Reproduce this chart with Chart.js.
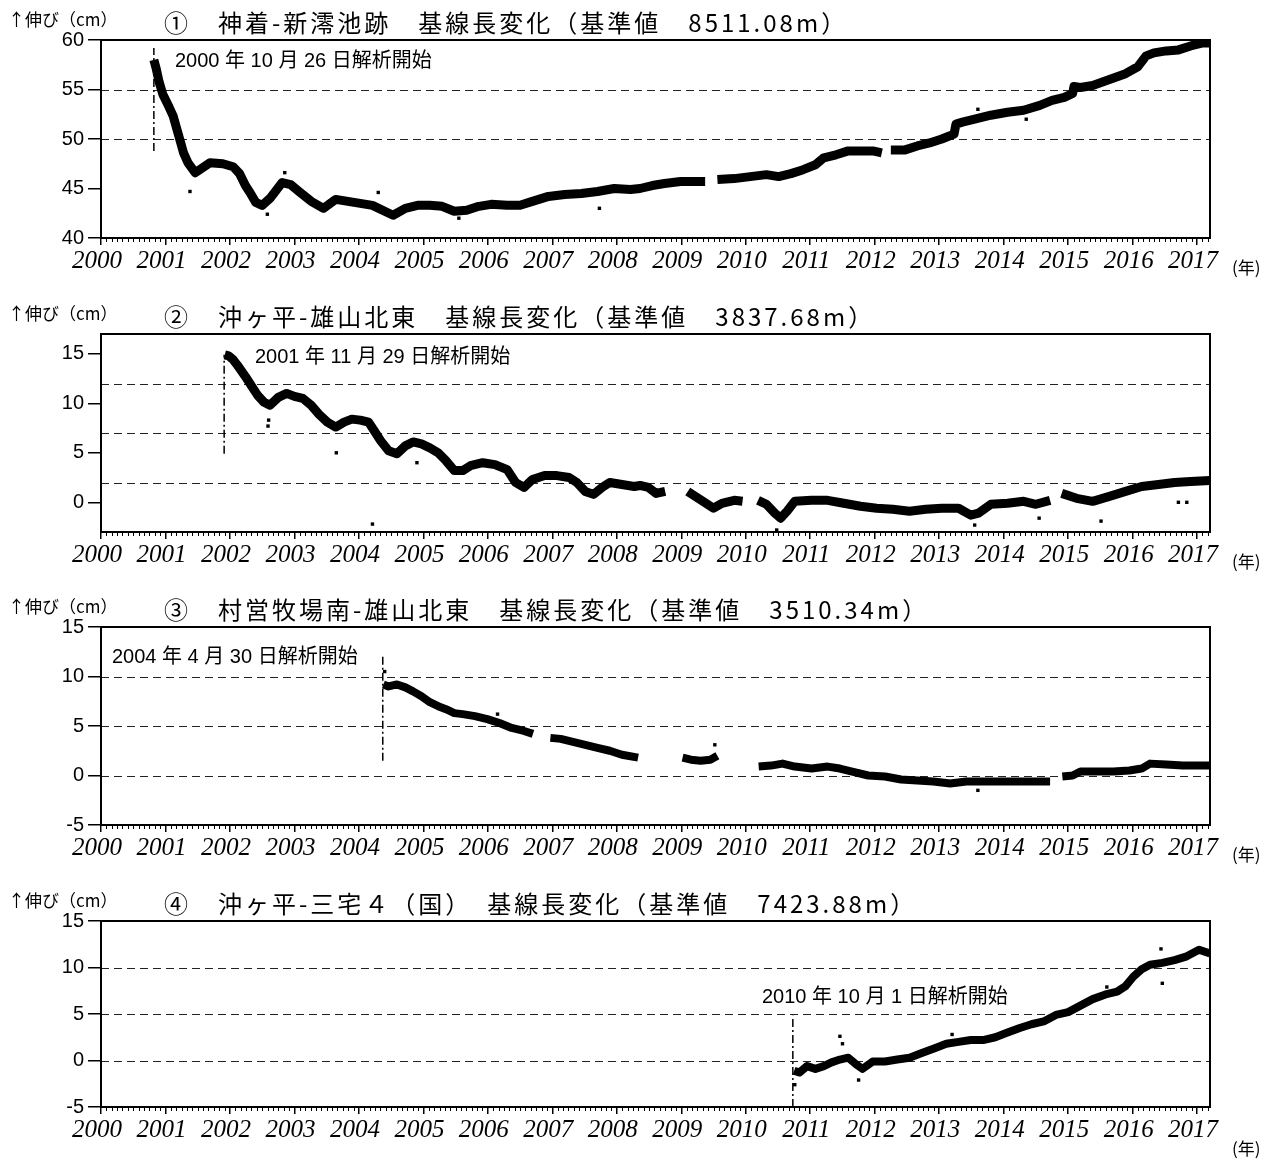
<!DOCTYPE html>
<html>
<head>
<meta charset="utf-8">
<script src="https://cdn.jsdelivr.net/npm/chart.js@4.4.1/dist/chart.umd.min.js"></script>
<style>
  body { margin: 0; background: #fff; width: 1281px; height: 1159px; overflow: hidden; position: relative; }
  canvas { position: absolute; left: 0; }
</style>
</head>
<body>
<canvas id="panel1" width="1281" height="290" style="top:0px"></canvas>
<canvas id="panel2" width="1281" height="290" style="top:294px"></canvas>
<canvas id="panel3" width="1281" height="290" style="top:587px"></canvas>
<canvas id="panel4" width="1281" height="278" style="top:881px"></canvas>
<script>
// x axis (decimal years)
const yearTicks = [2000, 2001, 2002, 2003, 2004, 2005, 2006, 2007, 2008, 2009, 2010, 2011, 2012, 2013, 2014, 2015, 2016, 2017];
const xMin = 2000;
const xMax = 2017.2;

// ① 神着-新澪池跡  (null = gap in data)
const p1Years = [2000.82, 2000.86, 2000.90, 2000.96, 2001.05, 2001.12, 2001.22, 2001.28, 2001.35, 2001.46, 2001.53, 2001.69, 2001.89, 2002.05, 2002.15, 2002.24, 2002.31, 2002.40, 2002.50, 2002.62, 2002.81, 2002.94, 2003.07, 2003.26, 2003.45, 2003.64, 2003.83, 2004.02, 2004.21, 2004.40, 2004.53, 2004.72, 2004.91, 2005.10, 2005.29, 2005.48, 2005.67, 2005.86, 2006.05, 2006.30, 2006.50, 2006.69, 2006.94, 2007.19, 2007.45, 2007.70, 2007.96, 2008.21, 2008.36, 2008.55, 2008.74, 2008.99, 2009.37, 2009.46, 2009.56, 2009.82, 2010.07, 2010.32, 2010.51, 2010.70, 2010.89, 2011.08, 2011.21, 2011.40, 2011.59, 2011.78, 2011.97, 2012.11, 2012.18, 2012.25, 2012.47, 2012.66, 2012.85, 2013.04, 2013.23, 2013.26, 2013.36, 2013.55, 2013.80, 2014.06, 2014.31, 2014.56, 2014.75, 2014.94, 2015.07, 2015.09, 2015.19, 2015.38, 2015.64, 2015.89, 2016.08, 2016.21, 2016.33, 2016.52, 2016.71, 2016.90, 2017.09, 2017.20];
const p1Values = [58.0, 57.0, 55.8, 54.5, 53.3, 52.3, 50.0, 48.6, 47.6, 46.6, 46.9, 47.6, 47.5, 47.2, 46.5, 45.3, 44.6, 43.6, 43.3, 44.0, 45.6, 45.4, 44.7, 43.7, 43.0, 43.9, 43.7, 43.5, 43.3, 42.7, 42.3, 43.0, 43.3, 43.3, 43.2, 42.7, 42.8, 43.2, 43.4, 43.3, 43.3, 43.7, 44.2, 44.4, 44.5, 44.7, 45.0, 44.9, 45.0, 45.3, 45.5, 45.7, 45.7, null, 45.9, 46.0, 46.2, 46.4, 46.2, 46.5, 46.9, 47.4, 48.1, 48.4, 48.8, 48.8, 48.8, 48.6, null, 48.9, 48.9, 49.3, 49.6, 50.0, 50.5, 51.5, 51.7, 52.0, 52.4, 52.7, 52.9, 53.4, 53.9, 54.2, 54.6, 55.3, 55.2, 55.4, 56.0, 56.6, 57.3, 58.4, 58.7, 58.9, 59.0, 59.4, 59.7, 59.7];
const p1OutYears = [2001.38, 2002.58, 2007.73, 2004.30, 2005.55, 2002.85, 2013.60, 2014.35];
const p1OutValues = [44.7, 42.4, 43.0, 44.6, 42.0, 46.6, 53.0, 52.0];

// ② 沖ヶ平-雄山北東
const p2Years = [2001.92, 2001.98, 2002.05, 2002.11, 2002.24, 2002.34, 2002.43, 2002.53, 2002.62, 2002.75, 2002.88, 2003.00, 2003.13, 2003.26, 2003.38, 2003.51, 2003.64, 2003.77, 2003.89, 2004.02, 2004.15, 2004.24, 2004.34, 2004.46, 2004.59, 2004.72, 2004.84, 2004.97, 2005.10, 2005.23, 2005.35, 2005.48, 2005.61, 2005.73, 2005.92, 2006.11, 2006.30, 2006.43, 2006.56, 2006.69, 2006.88, 2007.07, 2007.26, 2007.38, 2007.51, 2007.64, 2007.77, 2007.89, 2008.08, 2008.27, 2008.36, 2008.49, 2008.61, 2008.75, 2008.92, 2009.10, 2009.31, 2009.50, 2009.63, 2009.82, 2009.95, 2010.07, 2010.19, 2010.32, 2010.45, 2010.54, 2010.64, 2010.76, 2011.02, 2011.27, 2011.52, 2011.78, 2012.03, 2012.28, 2012.54, 2012.79, 2013.04, 2013.30, 2013.49, 2013.61, 2013.80, 2014.06, 2014.31, 2014.50, 2014.72, 2014.80, 2014.90, 2015.13, 2015.38, 2015.64, 2015.89, 2016.14, 2016.40, 2016.65, 2016.90, 2017.20];
const p2Values = [14.9, 14.8, 14.4, 13.9, 12.7, 11.7, 10.8, 10.1, 9.8, 10.6, 11.0, 10.7, 10.5, 9.8, 8.9, 8.1, 7.6, 8.1, 8.4, 8.3, 8.1, 7.2, 6.2, 5.2, 4.9, 5.7, 6.1, 5.9, 5.5, 5.0, 4.2, 3.2, 3.2, 3.7, 4.0, 3.8, 3.3, 2.0, 1.5, 2.3, 2.7, 2.7, 2.5, 2.0, 1.1, 0.8, 1.5, 2.0, 1.8, 1.6, 1.7, 1.5, 0.9, 1.1, null, 1.1, 0.2, -0.6, -0.1, 0.2, 0.1, null, 0.2, -0.2, -1.1, -1.6, -0.9, 0.1, 0.2, 0.2, -0.1, -0.4, -0.6, -0.7, -0.9, -0.7, -0.6, -0.6, -1.3, -1.1, -0.2, -0.1, 0.1, -0.2, 0.2, null, 0.9, 0.4, 0.1, 0.6, 1.1, 1.6, 1.8, 2.0, 2.1, 2.2];
const p2OutYears = [2002.59, 2003.65, 2004.21, 2010.48, 2013.55, 2015.51, 2016.71, 2016.84, 2014.55, 2002.60, 2004.90];
const p2OutValues = [7.7, 5.0, -2.2, -2.8, -2.3, -1.9, 0.0, 0.0, -1.6, 8.3, 4.0];

// ③ 村営牧場南-雄山北東
const p3Years = [2004.38, 2004.46, 2004.59, 2004.72, 2004.84, 2004.97, 2005.10, 2005.23, 2005.35, 2005.48, 2005.61, 2005.80, 2005.99, 2006.18, 2006.37, 2006.56, 2006.70, 2006.83, 2006.97, 2007.13, 2007.32, 2007.51, 2007.70, 2007.89, 2008.08, 2008.33, 2008.65, 2009.02, 2009.15, 2009.30, 2009.45, 2009.56, 2009.85, 2010.20, 2010.39, 2010.57, 2010.76, 2011.02, 2011.27, 2011.46, 2011.65, 2011.90, 2012.16, 2012.41, 2012.66, 2012.91, 2013.17, 2013.42, 2013.67, 2013.92, 2014.18, 2014.43, 2014.72, 2014.81, 2014.91, 2015.07, 2015.19, 2015.45, 2015.70, 2015.95, 2016.14, 2016.27, 2016.52, 2016.78, 2017.03, 2017.20];
const p3Values = [9.2, 9.0, 9.2, 8.9, 8.5, 8.0, 7.4, 7.0, 6.7, 6.3, 6.2, 6.0, 5.7, 5.3, 4.8, 4.5, 4.2, null, 3.8, 3.7, 3.4, 3.1, 2.8, 2.5, 2.1, 1.8, null, 1.8, 1.6, 1.5, 1.6, 2.0, null, 0.9, 1.0, 1.2, 0.9, 0.7, 0.9, 0.7, 0.4, 0.0, -0.1, -0.4, -0.5, -0.6, -0.8, -0.6, -0.6, -0.6, -0.6, -0.6, -0.6, null, -0.1, 0.0, 0.4, 0.4, 0.4, 0.5, 0.7, 1.2, 1.1, 1.0, 1.0, 1.0];
const p3OutYears = [2009.52, 2004.40, 2006.15, 2013.60];
const p3OutValues = [3.1, 10.5, 6.2, -1.5];

// ④ 沖ヶ平-三宅４（国）
const p4Years = [2010.75, 2010.83, 2010.95, 2011.08, 2011.21, 2011.33, 2011.46, 2011.59, 2011.71, 2011.81, 2011.97, 2012.16, 2012.35, 2012.54, 2012.73, 2012.92, 2013.11, 2013.30, 2013.49, 2013.68, 2013.87, 2014.06, 2014.25, 2014.43, 2014.62, 2014.81, 2015.00, 2015.19, 2015.38, 2015.58, 2015.76, 2015.89, 2016.01, 2016.14, 2016.27, 2016.46, 2016.65, 2016.84, 2017.03, 2017.20];
const p4Values = [-1.1, -1.3, -0.6, -0.9, -0.6, -0.2, 0.1, 0.3, -0.4, -0.9, -0.1, -0.1, 0.1, 0.3, 0.8, 1.3, 1.8, 2.0, 2.2, 2.2, 2.5, 3.0, 3.5, 3.9, 4.2, 4.9, 5.2, 5.9, 6.6, 7.1, 7.4, 8.0, 9.0, 9.8, 10.3, 10.5, 10.8, 11.2, 11.9, 11.5];
const p4OutYears = [2011.46, 2011.50, 2016.44, 2016.46, 2011.75, 2013.20, 2015.60, 2010.76];
const p4OutValues = [2.6, 1.8, 12.0, 8.3, -2.1, 2.8, 7.9, -2.6];

// y ticks and dashed reference lines per panel
const p1Ticks = [40, 45, 50, 55, 60];
const p2Ticks = [0, 5, 10, 15];
const p3Ticks = [-5, 0, 5, 10, 15];
const p4Ticks = [-5, 0, 5, 10, 15];
const p1Dashed = [50, 55];
const p2Dashed = [2, 7, 12];
const p3Dashed = [0, 5, 10];
const p4Dashed = [0, 5, 10];

// 解析開始 markers: [year, from, to]
const p1Start = [2000.82, 48.8, 59.2];
const p2Start = [2001.91, 4.9, 14.9];
const p3Start = [2004.37, 1.5, 12.1];
const p4Start = [2010.73, -5, 4.8];

const toPoints = (xs, ys) => xs.map((x, i) => ({ x: x, y: ys[i] }));

const framePlugin = {
    id: 'frame',
    beforeDatasetsDraw(chart, args, opts) {
        const { ctx, chartArea: a, scales: { y } } = chart;
        ctx.save();
        ctx.strokeStyle = '#222';
        ctx.lineWidth = 1.2;
        ctx.setLineDash([8, 5]);
        opts.dashed.forEach(v => {
            const py = Math.round(y.getPixelForValue(v)) + 0.5;
            ctx.beginPath();
            ctx.moveTo(a.left, py);
            ctx.lineTo(a.right, py);
            ctx.stroke();
        });
        ctx.restore();
    },
    afterDraw(chart, args, opts) {
        const { ctx, chartArea: a, scales: { x } } = chart;
        ctx.save();
        // monthly minor ticks under the axis
        ctx.strokeStyle = '#000';
        ctx.lineWidth = 1;
        for (let yr = xMin; yr < xMax; yr++) {
            for (let m = 1; m < 12; m++) {
                const v = yr + m / 12;
                if (v > xMax) break;
                const px = Math.round(x.getPixelForValue(v)) + 0.5;
                ctx.beginPath();
                ctx.moveTo(px, a.bottom);
                ctx.lineTo(px, a.bottom + 4);
                ctx.stroke();
            }
        }
        // frame
        ctx.lineWidth = 2;
        ctx.strokeRect(a.left, a.top, a.right - a.left, a.bottom - a.top);
        // texts
        ctx.fillStyle = '#000';
        ctx.textBaseline = 'middle';
        ctx.textAlign = 'left';
        ctx.font = '17px "Noto Sans CJK JP"';
        ctx.fillText('↑伸び（cm）', 8, 20);
        ctx.font = '24px "Noto Sans CJK JP"';
        ctx.letterSpacing = '3px';
        ctx.fillText(opts.title, 164, 23);
        ctx.letterSpacing = '0px';
        ctx.font = '20px "Liberation Sans", "Noto Sans CJK JP"';
        ctx.fillText(opts.note, opts.noteX, opts.noteY);
        ctx.font = '17px "Noto Sans CJK JP"';
        ctx.fillText('(年)', 1232, 268);
        ctx.restore();
    }
};

function makePanel(id, years, values, outYears, outValues, start, yMin, yMax, ticks, dashed, bandWidth, title, note, noteX, noteY) {
    const ctx = document.getElementById(id).getContext('2d');
    return new Chart(ctx, {
        type: 'line',
        data: {
            datasets: [{
                data: toPoints(years, values),
                borderColor: '#000',
                borderWidth: bandWidth,
                borderJoinStyle: 'round',
                borderCapStyle: 'butt',
                pointRadius: 0,
                spanGaps: false,
                tension: 0
            }, {
                type: 'scatter',
                data: toPoints(outYears, outValues),
                pointStyle: 'rect',
                pointRadius: 2.4,
                backgroundColor: '#000',
                borderWidth: 0
            }, {
                data: [{ x: start[0], y: start[1] }, { x: start[0], y: start[2] }],
                borderColor: '#000',
                borderWidth: 1.5,
                borderDash: [8, 3, 2, 3],
                pointRadius: 0
            }]
        },
        options: {
            responsive: false,
            animation: false,
            events: [],
            layout: { padding: { left: 0, right: 71, top: 40, bottom: 0 } },
            plugins: {
                legend: { display: false },
                tooltip: { enabled: false },
                frame: { dashed: dashed, title: title, note: note, noteX: noteX, noteY: noteY }
            },
            scales: {
                x: {
                    type: 'linear',
                    min: xMin,
                    max: xMax,
                    offset: false,
                    afterBuildTicks: s => { s.ticks = yearTicks.map(v => ({ value: v })); },
                    afterFit: s => { s.height = 52; s.paddingLeft = 0; s.paddingRight = 0; },
                    border: { display: false },
                    grid: { drawOnChartArea: false, drawTicks: true, tickLength: 7, color: '#000', lineWidth: 1.5 },
                    ticks: {
                        autoSkip: false,
                        maxRotation: 0,
                        padding: 1,
                        labelOffset: -4,
                        color: '#000',
                        font: { family: 'Liberation Serif', size: 25, style: 'italic' },
                        callback: v => String(v)
                    }
                },
                y: {
                    min: yMin,
                    max: yMax,
                    afterBuildTicks: s => { s.ticks = ticks.map(v => ({ value: v })); },
                    afterFit: s => { s.width = 101; s.paddingTop = 0; s.paddingBottom = 0; },
                    border: { display: false },
                    grid: { drawOnChartArea: false, drawTicks: true, tickLength: 13, color: '#000', lineWidth: 1.5 },
                    ticks: {
                        padding: 4,
                        color: '#000',
                        font: { family: 'Liberation Sans', size: 20 },
                        callback: v => String(v)
                    }
                }
            }
        },
        plugins: [framePlugin]
    });
}

makePanel('panel1', p1Years, p1Values, p1OutYears, p1OutValues, p1Start, 40, 60, p1Ticks, p1Dashed, 9,
    '①　神着-新澪池跡　基線長変化（基準値　8511.08m）', '2000 年 10 月 26 日解析開始', 175, 61);
makePanel('panel2', p2Years, p2Values, p2OutYears, p2OutValues, p2Start, -3, 17, p2Ticks, p2Dashed, 9,
    '②　沖ヶ平-雄山北東　基線長変化（基準値　3837.68m）', '2001 年 11 月 29 日解析開始', 255, 63);
makePanel('panel3', p3Years, p3Values, p3OutYears, p3OutValues, p3Start, -5, 15, p3Ticks, p3Dashed, 8,
    '③　村営牧場南-雄山北東　基線長変化（基準値　3510.34m）', '2004 年 4 月 30 日解析開始', 112, 70);
makePanel('panel4', p4Years, p4Values, p4OutYears, p4OutValues, p4Start, -5, 15, p4Ticks, p4Dashed, 8,
    '④　沖ヶ平-三宅４（国）　基線長変化（基準値　7423.88m）', '2010 年 10 月 1 日解析開始', 762, 116);
</script>
</body>
</html>
